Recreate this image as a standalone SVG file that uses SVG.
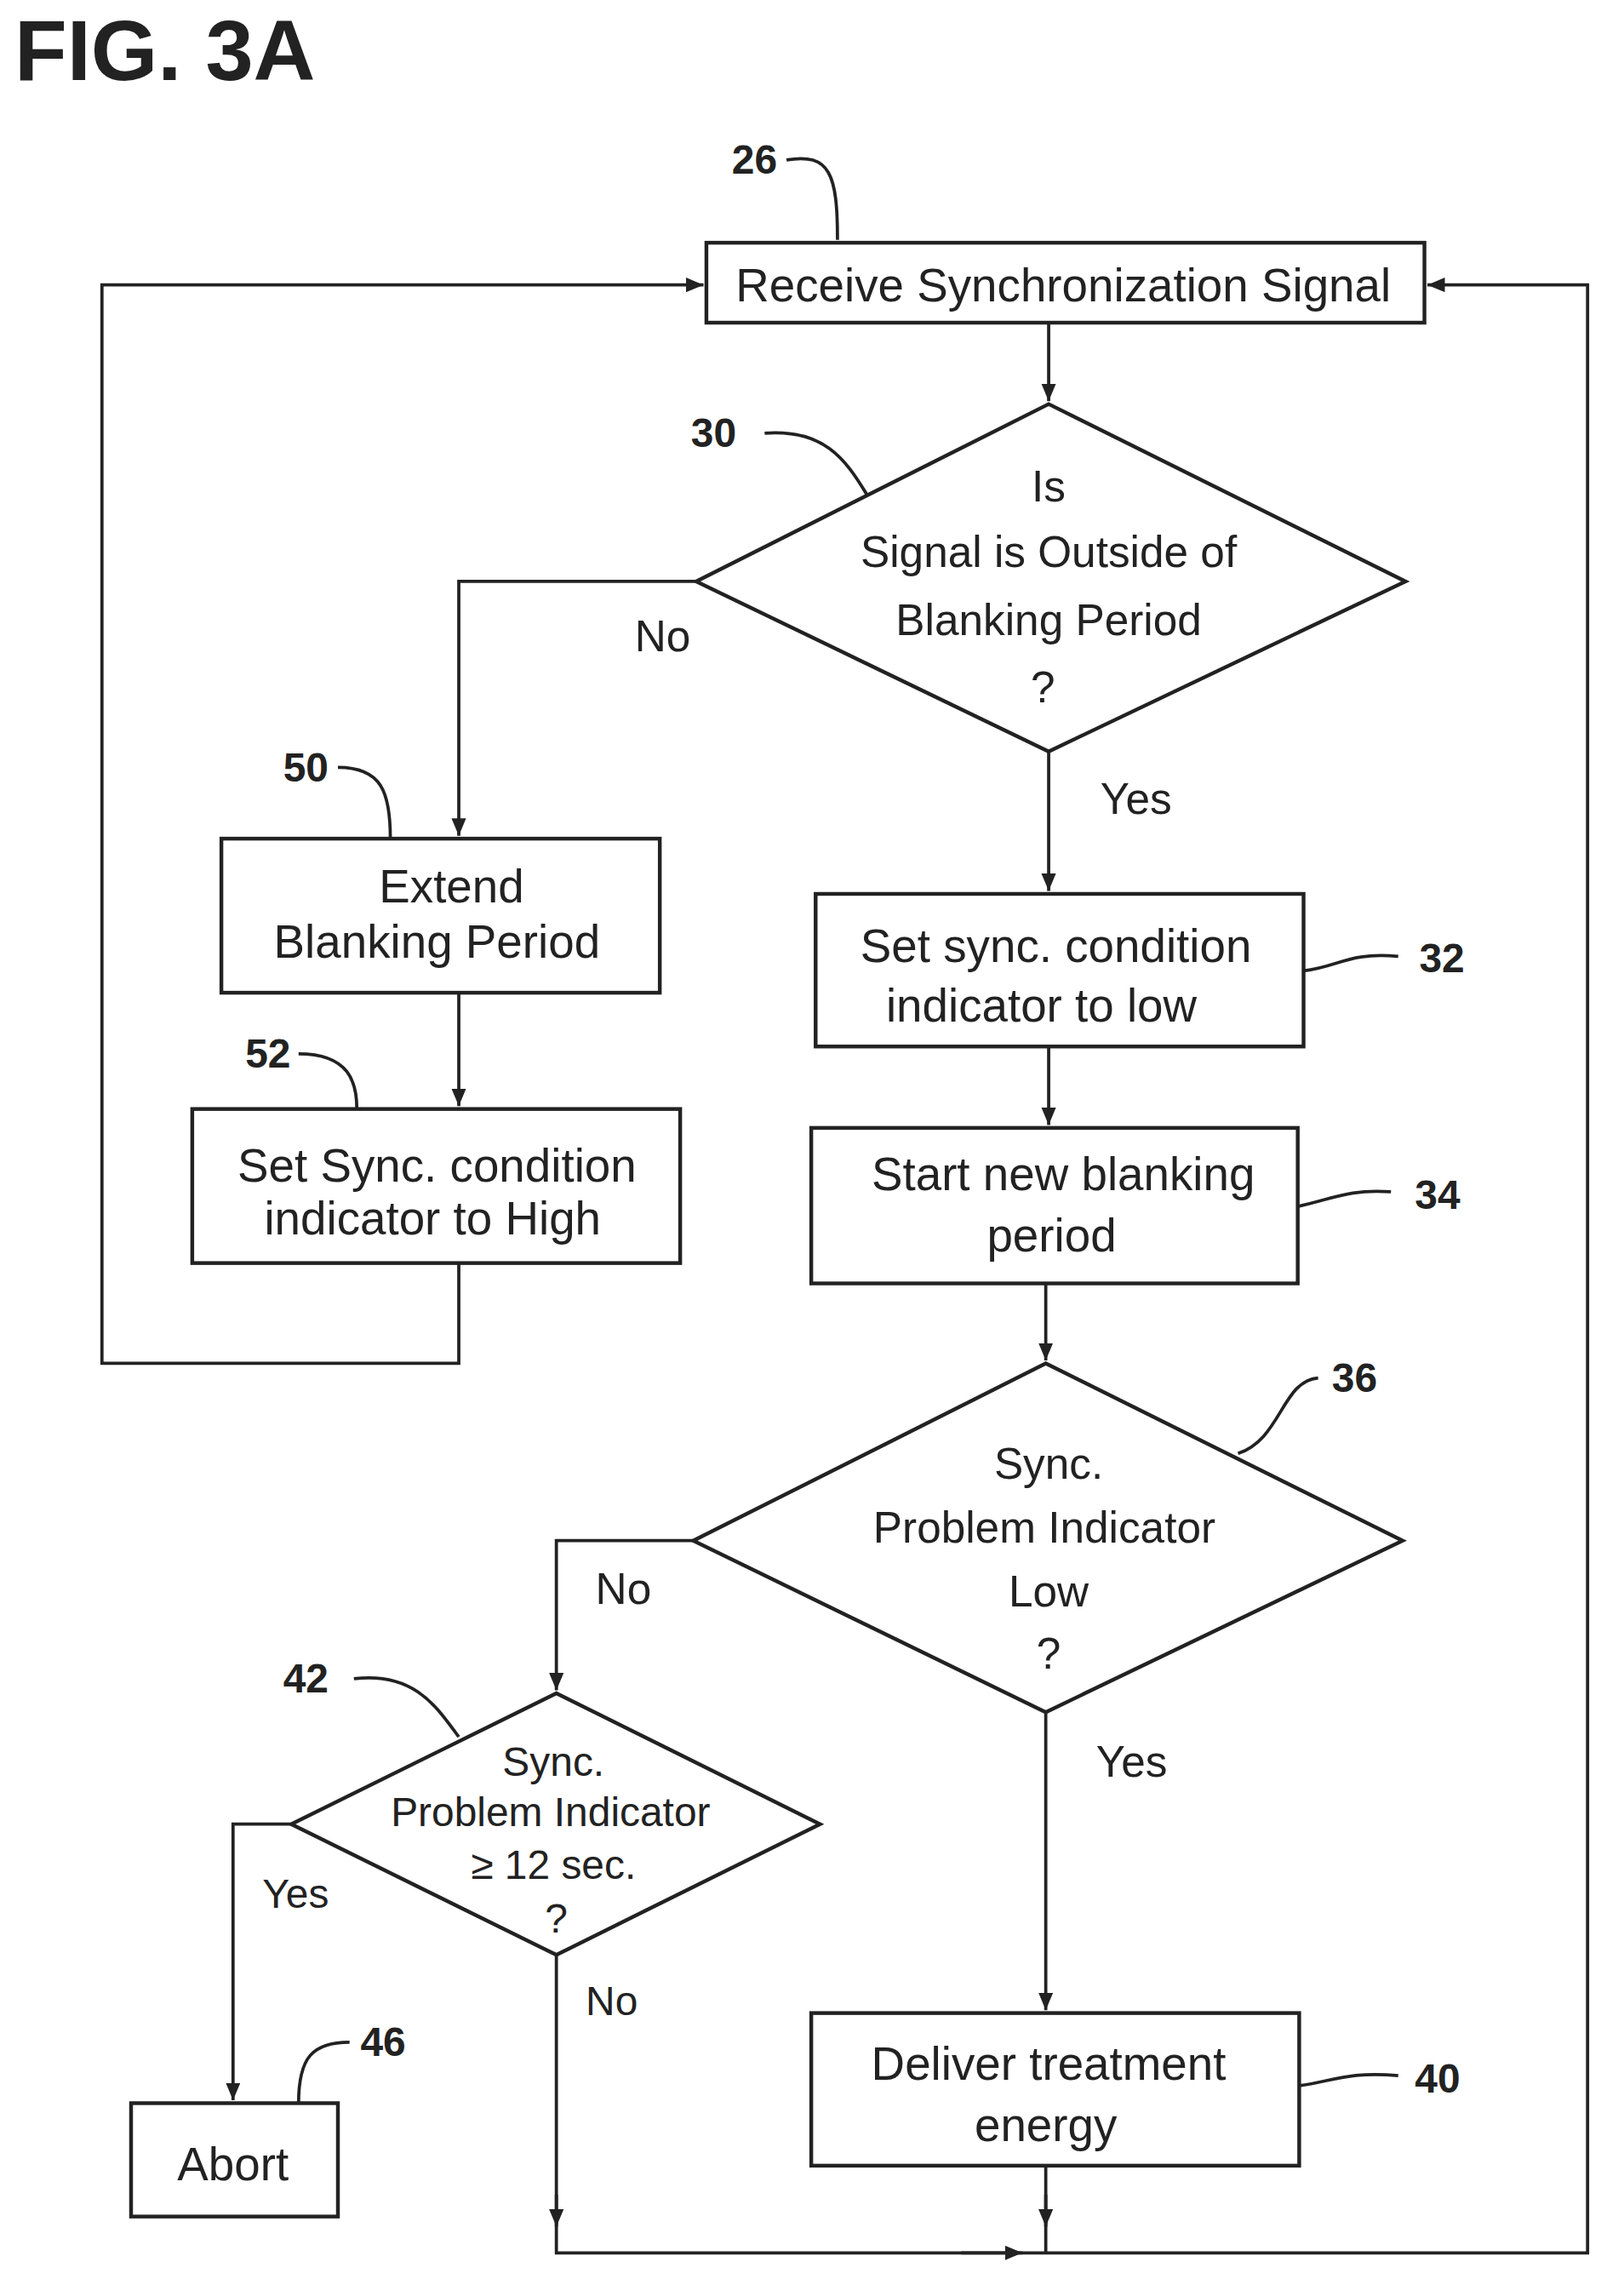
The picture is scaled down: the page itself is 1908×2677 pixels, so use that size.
<svg xmlns="http://www.w3.org/2000/svg" width="1908" height="2677" viewBox="0 0 1908 2677">
<style>
.s{fill:none;stroke:#222;stroke-width:2.2}
.b{fill:#fff;stroke:#222;stroke-width:2.6}
.t{font-family:"Liberation Sans",Arial,sans-serif;font-size:32px;fill:#222;text-anchor:middle;dominant-baseline:central}
.d{font-size:30px}
.e{font-size:28px}
.l{font-family:"Liberation Sans",Arial,sans-serif;font-size:28px;font-weight:bold;fill:#222;text-anchor:middle;dominant-baseline:central}
</style>
<defs><marker id="a" markerWidth="14" markerHeight="14" refX="12" refY="5" orient="auto" markerUnits="userSpaceOnUse"><path d="M0,0 L12,5 L0,10 Z" fill="#222"/></marker></defs>
<rect width="1908" height="2677" fill="#fff"/>
<text x="17" y="94" style="font-family:'Liberation Sans',Arial,sans-serif;font-size:101px;font-weight:bold;fill:#222">FIG. 3A</text>
<g transform="scale(1.7112,1.7073)">
<g id="connectors">
<path class="s" d="M720,222 V276" marker-end="url(#a)"/>
<path class="s" d="M478,400 H315 V575" marker-end="url(#a)"/>
<path class="s" d="M315,683 V761" marker-end="url(#a)"/>
<path class="s" d="M315,869 V938 H70 V196 H483" marker-end="url(#a)"/>
<path class="s" d="M720,517 V613" marker-end="url(#a)"/>
<path class="s" d="M720,720 V774" marker-end="url(#a)"/>
<path class="s" d="M718,883 V936" marker-end="url(#a)"/>
<path class="s" d="M476,1060 H382 V1163" marker-end="url(#a)"/>
<path class="s" d="M200,1255 H160 V1445" marker-end="url(#a)"/>
<path class="s" d="M382,1345 V1550 H1090 V196 H980" marker-end="url(#a)"/>
<path class="s" d="M382,1510 V1532" marker-end="url(#a)"/>
<path class="s" d="M660,1550 H702" marker-end="url(#a)"/>
<path class="s" d="M718,1178 V1383" marker-end="url(#a)"/>
<path class="s" d="M718,1490 V1550"/>
<path class="s" d="M718,1510 V1532" marker-end="url(#a)"/>
<path class="s" d="M540,110 C570,105 575,120 575,165"/>
<path class="s" d="M525,298 C565,295 580,315 595,340"/>
<path class="s" d="M232,528 C262,528 268,545 268,577"/>
<path class="s" d="M205,725 C240,725 245,745 245,763"/>
<path class="s" d="M895,668 C920,665 925,655 960,658"/>
<path class="s" d="M891,830 C915,825 925,818 955,820"/>
<path class="s" d="M850,1000 C880,990 880,950 905,948"/>
<path class="s" d="M243,1155 C285,1150 300,1175 315,1195"/>
<path class="s" d="M205,1447 C205,1415 215,1405 240,1405"/>
<path class="s" d="M892,1435 C915,1432 925,1425 960,1428"/>
</g>
<g id="n26"><rect class="b" x="485" y="167" width="493" height="55"/><text class="t" x="730" y="196">Receive Synchronization Signal</text><text class="l" x="518" y="110">26</text></g>
<g id="n30"><polygon class="b" points="720,278 965,400 720,517 478,400"/><text class="t d" x="720" y="335">Is</text><text class="t d" x="720" y="380">Signal is Outside of</text><text class="t d" x="720" y="427">Blanking Period</text><text class="t d" x="716" y="473">?</text><text class="l" x="490" y="298">30</text><text class="t d" x="455" y="438">No</text><text class="t d" x="780" y="550">Yes</text></g>
<g id="n50"><rect class="b" x="152" y="577" width="301" height="106"/><text class="t" x="310" y="610">Extend</text><text class="t" x="300" y="648">Blanking Period</text><text class="l" x="210" y="528">50</text></g>
<g id="n52"><rect class="b" x="132" y="763" width="335" height="106"/><text class="t" x="300" y="802">Set Sync. condition</text><text class="t" x="297" y="838">indicator to High</text><text class="l" x="184" y="725">52</text></g>
<g id="n32"><rect class="b" x="560" y="615" width="335" height="105"/><text class="t" x="725" y="651">Set sync. condition</text><text class="t" x="715" y="692">indicator to low</text><text class="l" x="990" y="659">32</text></g>
<g id="n34"><rect class="b" x="557" y="776" width="334" height="107"/><text class="t" x="730" y="808">Start new blanking</text><text class="t" x="722" y="850">period</text><text class="l" x="987" y="822">34</text></g>
<g id="n36"><polygon class="b" points="718,938 963,1060 718,1178 476,1060"/><text class="t d" x="720" y="1007">Sync.</text><text class="t d" x="717" y="1051">Problem Indicator</text><text class="t d" x="720" y="1095">Low</text><text class="t d" x="720" y="1138">?</text><text class="l" x="930" y="948">36</text><text class="t d" x="428" y="1093">No</text><text class="t d" x="777" y="1212">Yes</text></g>
<g id="n42"><polygon class="b" points="382,1165 563,1255 382,1345 200,1255"/><text class="t e" x="380" y="1212">Sync.</text><text class="t e" x="378" y="1247">Problem Indicator</text><text class="t e" x="380" y="1283">≥ 12 sec.</text><text class="t e" x="382" y="1320">?</text><text class="l" x="210" y="1155">42</text><text class="t e" x="203" y="1303">Yes</text><text class="t e" x="420" y="1377">No</text></g>
<g id="n46"><rect class="b" x="90" y="1447" width="142" height="78"/><text class="t" x="160" y="1489">Abort</text><text class="l" x="263" y="1405">46</text></g>
<g id="n40"><rect class="b" x="557" y="1385" width="335" height="105"/><text class="t" x="720" y="1420">Deliver treatment</text><text class="t" x="718" y="1462">energy</text><text class="l" x="987" y="1430">40</text></g>
</g>
</svg>
